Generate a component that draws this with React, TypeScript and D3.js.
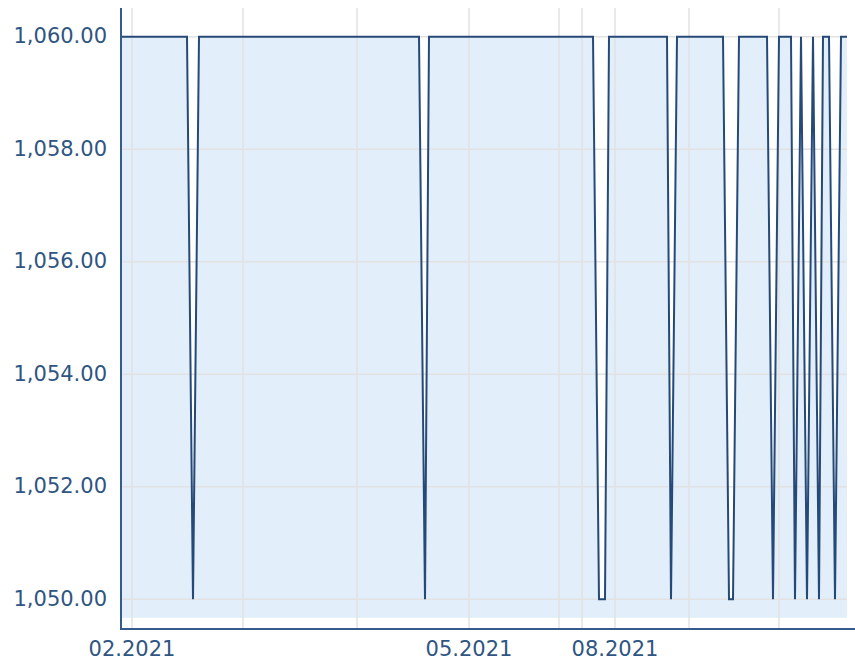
import React, { useEffect, useRef } from 'react';
import * as d3 from 'd3';

// turning points of the price line (ordinal index of trading point, price)
const pointIdx = [
  0, 33, 34, 35, 36, 37, 38, 39,
  149, 150, 151, 152, 153, 154,
  236, 237, 238, 239, 242, 243, 244,
  273, 274, 275, 276, 277, 278,
  301, 302, 303, 304, 306, 307, 308, 309,
  323, 324, 325, 326, 327, 328, 329,
  335, 336, 337, 338, 339, 340,
  341, 342, 343, 344, 345, 346,
  347, 348, 349, 350, 351,
  354, 355, 356, 357, 358, 359, 360, 363,
];
const prices = [
  1060, 1060, 1056.67, 1053.33, 1050, 1053.33, 1056.67, 1060,
  1060, 1056.67, 1053.33, 1050, 1055, 1060,
  1060, 1056.67, 1053.33, 1050, 1050, 1055, 1060,
  1060, 1055, 1050, 1053.33, 1056.67, 1060,
  1060, 1056.67, 1053.33, 1050, 1050, 1053.33, 1056.67, 1060,
  1060, 1056.67, 1053.33, 1050, 1053.33, 1056.67, 1060,
  1060, 1055, 1050, 1053.33, 1056.67, 1060,
  1056.67, 1053.33, 1050, 1053.33, 1056.67, 1060,
  1056.67, 1053.33, 1050, 1055, 1060,
  1060, 1056.67, 1053.33, 1050, 1053.33, 1056.67, 1060, 1060,
];

// month ticks on the ordinal axis
const monthTickIdx = [5.5, 61, 118, 174, 219, 230.5, 247, 284, 329];
const monthLabels = ['02.2021', '03.2021', '04.2021', '05.2021', '06.2021', '07.2021', '08.2021', '09.2021', '10.2021'];
const priceTicks = [1050, 1052, 1054, 1056, 1058, 1060];
const areaFloor = 1049.67;

const W = 855;
const H = 661;

const App: React.FC = () => {
  const svgRef = useRef<SVGSVGElement>(null);

  useEffect(() => {
    if (!svgRef.current) return;
    const svg = d3.select(svgRef.current);
    svg.selectAll('*').remove();

    const left = 121, right = 847, top = 8, bottom = 629;
    const x = d3.scaleLinear().domain([0, 363]).range([left, right]);
    const y = d3.scaleLinear().domain([1049.47, 1060.51]).range([bottom, top]);

    const data = pointIdx.map((i, k) => ({ i, v: prices[k] }));
    const fmt = d3.format(',.2f');
    const textColor = '#2f5582';
    const font = 'DejaVu Sans, Verdana, sans-serif';

    // area fill
    svg.append('path')
      .datum(data)
      .attr('fill', '#e2eef9')
      .attr('d', d3.area<{ i: number; v: number }>()
        .x(d => x(d.i))
        .y0(y(areaFloor))
        .y1(d => y(d.v)));

    // grid
    svg.append('g')
      .selectAll('line')
      .data(monthTickIdx)
      .join('line')
      .attr('x1', d => x(d)).attr('x2', d => x(d))
      .attr('y1', top).attr('y2', bottom)
      .attr('stroke', '#e2e2e2')
      .attr('stroke-width', 1.5);

    svg.append('g')
      .selectAll('line')
      .data(priceTicks)
      .join('line')
      .attr('x1', left).attr('x2', right)
      .attr('y1', d => y(d)).attr('y2', d => y(d))
      .attr('stroke', '#e2e2e2')
      .attr('stroke-width', 1.5);

    // price line
    svg.append('path')
      .datum(data)
      .attr('fill', 'none')
      .attr('stroke', '#264a78')
      .attr('stroke-width', 2)
      .attr('stroke-linejoin', 'miter')
      .attr('d', d3.line<{ i: number; v: number }>()
        .x(d => x(d.i))
        .y(d => y(d.v)));

    // axes
    svg.append('line')
      .attr('x1', left).attr('x2', left)
      .attr('y1', top).attr('y2', bottom + 1)
      .attr('stroke', '#345b8c').attr('stroke-width', 2);
    svg.append('line')
      .attr('x1', left).attr('x2', W)
      .attr('y1', bottom).attr('y2', bottom)
      .attr('stroke', '#345b8c').attr('stroke-width', 2);

    // y labels
    svg.append('g')
      .selectAll('text')
      .data(priceTicks)
      .join('text')
      .attr('x', 107)
      .attr('y', d => y(d))
      .attr('dy', '0.32em')
      .attr('text-anchor', 'end')
      .style('font-family', font)
      .style('font-size', '21px')
      .style('fill', textColor)
      .text(d => fmt(d));

    // x labels, every third month
    svg.append('g')
      .selectAll('text')
      .data(monthTickIdx.map((t, k) => ({ t, label: monthLabels[k] })).filter((_, k) => k % 3 === 0))
      .join('text')
      .attr('x', d => x(d.t))
      .attr('y', 656)
      .attr('text-anchor', 'middle')
      .style('font-family', font)
      .style('font-size', '21px')
      .style('fill', textColor)
      .text(d => d.label);
  }, []);

  return (
    <svg
      ref={svgRef}
      width={W}
      height={H}
      style={{ position: 'absolute', left: 0, top: 0, background: '#fff' }}
    />
  );
};

export default App;
